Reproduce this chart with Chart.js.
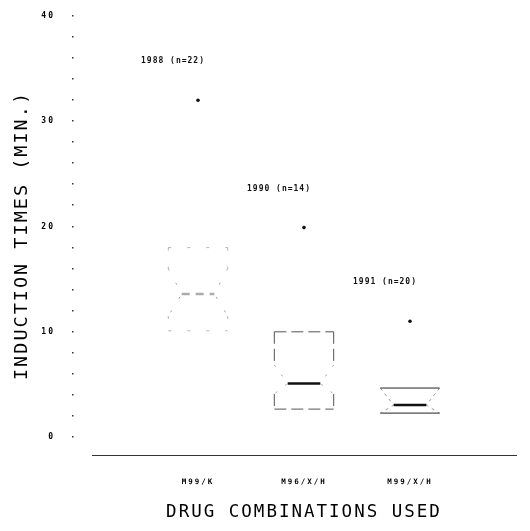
<!DOCTYPE html>
<html>
<head>
<meta charset="utf-8">
<script src="https://cdn.jsdelivr.net/npm/chart.js@4.4.1/dist/chart.umd.min.js"></script>
<style>
  html, body { margin: 0; padding: 0; background: #fff; }
  #wrap { width: 530px; height: 531px; }
</style>
</head>
<body>
<div id="wrap"><canvas id="chart" width="530" height="531"></canvas></div>
<script>
// Induction times per drug combination
const drugCombos = ['M99/K', 'M96/X/H', 'M99/X/H'];
const yearLabels = ['1988 (n=22)', '1990 (n=14)', '1991 (n=20)'];
const upperQuartile = [18, 10, 4.66];
const medians = [13.6, 5.1, 3.04];
const lowerQuartile = [10.1, 2.66, 2.28];
const notchHigh = [16, 6.85, 4.66];
const notchLow = [11.5, 4.1, 2.28];
const outliers = [32, 19.9, 11];
const yTickLabels = [0, 10, 20, 30, 40];

const FONT = "'DejaVu Sans Mono', monospace";

// how faded each box came out in the old print
const boxInk = [
    { edge: 'rgba(70,70,70,0.4)', dash: [3, 16], diag: [2, 14], median: 'rgba(70,70,70,0.45)' },
    { edge: 'rgba(40,40,40,0.8)', dash: [12, 5], diag: [2, 10], median: '#111' },
    { edge: '#222', dash: [], diag: [3, 4], median: '#111' }
];

const boxPlotPlugin = {
    id: 'boxPlot',
    beforeDraw(chart) {
        // plotter lettering is wide, spread the glyphs a bit
        chart.ctx.letterSpacing = '2px';
    },
    beforeDatasetsDraw(chart) {
        const { ctx, scales: { x, y } } = chart;
        const half = x.getPixelForValue(1.28) - x.getPixelForValue(1);
        ctx.save();
        drugCombos.forEach((name, i) => {
            const cx = x.getPixelForValue(i + 1);
            const l = cx - half, r = cx + half;
            const nl = cx - half * 0.55, nr = cx + half * 0.55;
            const yTop = y.getPixelForValue(upperQuartile[i]);
            const yBot = y.getPixelForValue(lowerQuartile[i]);
            const yMed = y.getPixelForValue(medians[i]);
            const yNH = y.getPixelForValue(notchHigh[i]);
            const yNL = y.getPixelForValue(notchLow[i]);
            const ink = boxInk[i];

            // top / bottom edges and straight sides
            ctx.strokeStyle = ink.edge;
            ctx.lineWidth = 1;
            ctx.setLineDash(ink.dash);
            ctx.beginPath();
            ctx.moveTo(l, yTop); ctx.lineTo(r, yTop);
            ctx.moveTo(l, yBot); ctx.lineTo(r, yBot);
            ctx.moveTo(r, yTop); ctx.lineTo(r, yNH);
            ctx.moveTo(l, yTop); ctx.lineTo(l, yNH);
            ctx.moveTo(r, yNL); ctx.lineTo(r, yBot);
            ctx.moveTo(l, yNL); ctx.lineTo(l, yBot);
            ctx.stroke();

            // notch diagonals, faint
            ctx.strokeStyle = 'rgba(90,90,90,0.6)';
            ctx.setLineDash(ink.diag);
            ctx.beginPath();
            ctx.moveTo(l, yNH); ctx.lineTo(nl, yMed); ctx.lineTo(l, yNL);
            ctx.moveTo(r, yNH); ctx.lineTo(nr, yMed); ctx.lineTo(r, yNL);
            ctx.stroke();

            // median bar
            ctx.setLineDash(i === 0 ? [8, 6] : []);
            ctx.strokeStyle = ink.median;
            ctx.lineWidth = 2.5;
            ctx.beginPath();
            ctx.moveTo(nl, yMed);
            ctx.lineTo(nr, yMed);
            ctx.stroke();
        });
        ctx.restore();
    },
    afterDraw(chart) {
        const { ctx, scales: { x, y } } = chart;
        ctx.save();
        // little dots the plotter left for the y ticks
        ctx.fillStyle = '#333';
        y.ticks.forEach(t => {
            if (t.value < 0) return;
            ctx.fillRect(72, Math.round(y.getPixelForValue(t.value)) - 1, 1.5, 1.5);
        });
        // year / sample size notes above each outlier
        ctx.letterSpacing = '1px';
        ctx.font = 'bold 8px ' + FONT;
        ctx.fillStyle = '#111';
        ctx.textAlign = 'center';
        ctx.textBaseline = 'middle';
        yearLabels.forEach((txt, i) => {
            const px = x.getPixelForValue(i + 1) - 25;
            const py = y.getPixelForValue(outliers[i]) - 39;
            ctx.fillText(txt, px, py);
        });
        ctx.restore();
    }
};

const ctx = document.getElementById('chart').getContext('2d');
new Chart(ctx, {
    type: 'scatter',
    data: {
        datasets: [{
            label: 'Outliers',
            data: outliers.map((v, i) => ({ x: i + 1, y: v })),
            pointRadius: 1.8,
            pointBackgroundColor: '#111',
            pointBorderWidth: 0
        }]
    },
    options: {
        responsive: false,
        animation: false,
        layout: { padding: { top: 16, right: 14, left: 0, bottom: 0 } },
        plugins: {
            legend: { display: false },
            tooltip: { enabled: false }
        },
        scales: {
            x: {
                type: 'linear',
                min: 0,
                max: 4,
                grid: { display: true, drawOnChartArea: false, tickLength: 20, tickColor: 'transparent' },
                border: { display: true, color: '#333', width: 1, dash: [26, 5, 4, 5] },
                ticks: {
                    stepSize: 1,
                    autoSkip: false,
                    maxRotation: 0,
                    padding: 3,
                    color: '#000',
                    font: { family: FONT, size: 7.5, weight: 'bold' },
                    callback: v => drugCombos[v - 1] || ''
                },
                title: {
                    display: true,
                    text: 'DRUG COMBINATIONS USED',
                    color: '#000',
                    font: { family: FONT, size: 17.5 },
                    padding: { top: 4, bottom: 8 }
                },
                afterFit: s => { s.height = 76; }
            },
            y: {
                min: -1.7,
                max: 40,
                grid: { display: true, drawOnChartArea: false, tickLength: 34, tickColor: 'transparent' },
                border: { display: false },
                ticks: {
                    stepSize: 2,
                    autoSkip: false,
                    padding: 3,
                    color: '#000',
                    font: { family: FONT, size: 8, weight: 'bold' },
                    callback: v => yTickLabels.includes(v) ? String(v) : ''
                },
                title: {
                    display: true,
                    text: 'INDUCTION TIMES (MIN.)',
                    color: '#000',
                    font: { family: FONT, size: 18.5 },
                    padding: { top: 11, bottom: 0 }
                },
                afterFit: s => { s.width = 92; }
            }
        }
    },
    plugins: [boxPlotPlugin]
});
</script>
</body>
</html>
